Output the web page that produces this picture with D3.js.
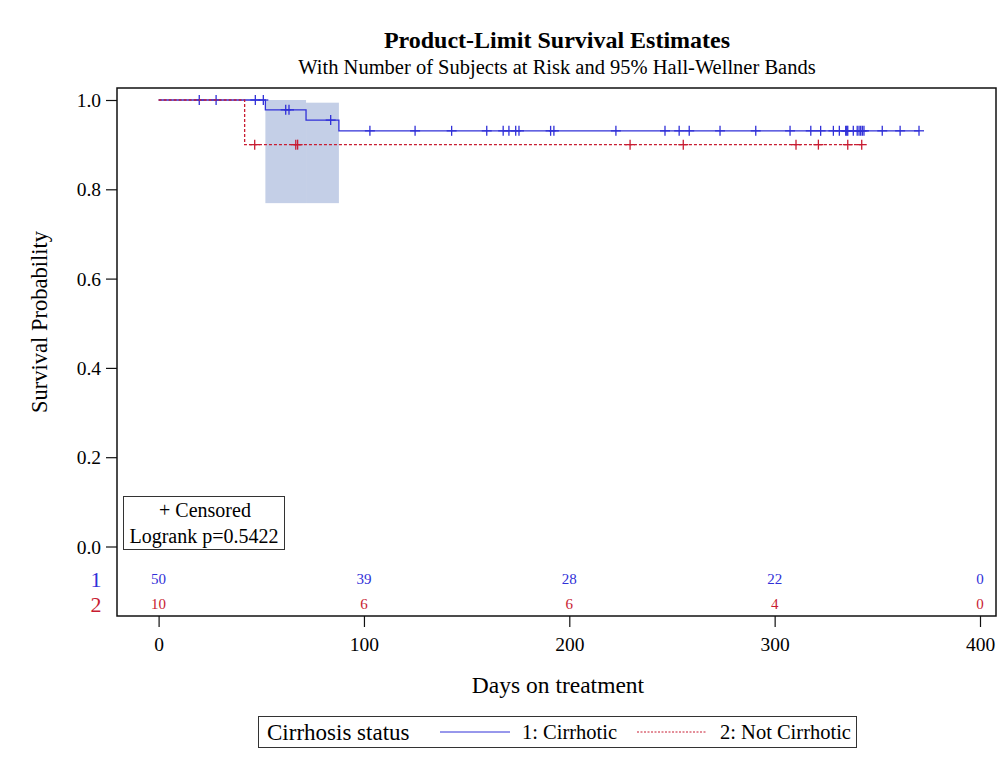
<!DOCTYPE html>
<html>
<head>
<meta charset="utf-8">
<script src="https://cdn.jsdelivr.net/npm/d3@7"></script>
<style>
  html, body { margin: 0; padding: 0; background: #fff; }
  svg { display: block; }
  text { font-family: "Liberation Serif", "DejaVu Serif", serif; fill: #000; }
</style>
</head>
<body>
<svg id="chart" width="1002" height="762"></svg>
<script>
// ---- Kaplan-Meier estimates by cirrhosis status ----
const groups = ["1", "2"];
const groupNames = ["1: Cirrhotic", "2: Not Cirrhotic"];

// step function: event times and survival just after each step
const stepTimes1 = [0, 52, 71.8, 87.8];
const stepSurv1  = [1.0, 0.978, 0.955, 0.931];
const stepTimes2 = [0, 41.9];
const stepSurv2  = [1.0, 0.9];

// censored observation times
const censor1 = [19.8, 28.0, 47.1, 51.0, 61.9, 63.5, 83.8, 102.9, 124.9, 142.7,
  159.8, 167.8, 170.6, 173.9, 175.5, 190.9, 192.5, 222.7, 246.6, 253.5, 258.4,
  273.4, 290.8, 307.5, 317.6, 322.4, 328.6, 331.5, 334.6, 335.1, 335.6, 338.3,
  340.2, 341.1, 341.9, 342.7, 343.5, 352.4, 361.1, 370.3];
const censor2 = [46.8, 66.8, 67.7, 229.6, 255.5, 310.4, 321.3, 335.6, 342.4];

// 95% Hall-Wellner band for group 1
const bandStart = [52, 71.8];
const bandEnd   = [71.8, 87.8];
const bandLower = [0.769, 0.769];
const bandUpper = [1.0, 0.994];

// number at risk table
const riskTimes = [0, 100, 200, 300, 400];
const atRisk1 = [50, 39, 28, 22, 0];
const atRisk2 = [10, 6, 6, 4, 0];

const xTicks = [0, 100, 200, 300, 400];
const yTicks = [0.0, 0.2, 0.4, 0.6, 0.8, 1.0];
const logrankText = "Logrank p=0.5422";

// ---- layout ----
const blue = "rgb(48,48,216)";
const red = "rgb(200,28,50)";
const frame = { left: 117, right: 996, top: 88, bottom: 616 };

const svg = d3.select("#chart");
const x = d3.scaleLinear().domain([0, 400]).range([158.6, 980]);
const y = d3.scaleLinear().domain([0, 1]).range([546.5, 100]);

// titles
svg.append("text").attr("x", 557).attr("y", 48).attr("text-anchor", "middle")
  .style("font-size", "24px").style("font-weight", "bold")
  .text("Product-Limit Survival Estimates");
svg.append("text").attr("x", 557).attr("y", 74).attr("text-anchor", "middle")
  .style("font-size", "20.5px")
  .text("With Number of Subjects at Risk and 95% Hall-Wellner Bands");

// Hall-Wellner band
svg.append("g").selectAll("rect").data(bandStart).join("rect")
  .attr("x", (d, i) => x(d))
  .attr("width", (d, i) => x(bandEnd[i]) - x(d))
  .attr("y", (d, i) => y(bandUpper[i]))
  .attr("height", (d, i) => y(bandLower[i]) - y(bandUpper[i]))
  .attr("fill", "rgb(196,207,231)");

// survival curves
function stepPoints(times, surv, end) {
  const pts = times.map((t, i) => [t, surv[i]]);
  pts.push([end, surv[surv.length - 1]]);
  return pts;
}
function survAt(times, surv, t) {
  let s = surv[0];
  for (let i = 0; i < times.length; i++) if (times[i] <= t) s = surv[i];
  return s;
}
const line = d3.line().x(d => x(d[0])).y(d => y(d[1])).curve(d3.curveStepAfter);

const curves = [
  { times: stepTimes1, surv: stepSurv1, cens: censor1, color: blue, dash: null },
  { times: stepTimes2, surv: stepSurv2, cens: censor2, color: red, dash: "3,2" }
];

curves.forEach(c => {
  const end = d3.max(c.cens);
  svg.append("path")
    .attr("d", line(stepPoints(c.times, c.surv, end)))
    .attr("fill", "none").attr("stroke", c.color).attr("stroke-width", 1.3)
    .attr("stroke-dasharray", c.dash);
  const g = svg.append("g").attr("stroke", c.color).attr("stroke-width", 1.3);
  c.cens.forEach(t => {
    const cx = x(t), cy = y(survAt(c.times, c.surv, t));
    g.append("line").attr("x1", cx - 5).attr("x2", cx + 5).attr("y1", cy).attr("y2", cy);
    g.append("line").attr("x1", cx).attr("x2", cx).attr("y1", cy - 5).attr("y2", cy + 5);
  });
});

// frame
svg.append("rect").attr("x", frame.left).attr("y", frame.top)
  .attr("width", frame.right - frame.left).attr("height", frame.bottom - frame.top)
  .attr("fill", "none").attr("stroke", "#111").attr("stroke-width", 1.5);

// y axis
const yAxis = d3.axisLeft(y).tickValues(yTicks).tickFormat(d3.format(".1f"))
  .tickSize(11).tickPadding(5);
const gy = svg.append("g").attr("transform", `translate(${frame.left},0)`).call(yAxis);
gy.select(".domain").remove();
gy.selectAll("line").attr("stroke", "#111").attr("stroke-width", 1.2);
gy.selectAll("text").style("font-size", "19.5px").style("font-family", "Liberation Serif")
  .attr("fill", "#000").attr("dy", "0.34em");

// x axis
const xAxis = d3.axisBottom(x).tickValues(xTicks).tickFormat(d3.format("d"))
  .tickSize(11).tickPadding(10);
const gx = svg.append("g").attr("transform", `translate(0,${frame.bottom})`).call(xAxis);
gx.select(".domain").remove();
gx.selectAll("line").attr("stroke", "#111").attr("stroke-width", 1.2);
gx.selectAll("text").style("font-size", "19.5px").style("font-family", "Liberation Serif")
  .attr("fill", "#000");

// axis titles
svg.append("text").attr("x", 558).attr("y", 693).attr("text-anchor", "middle")
  .style("font-size", "23.5px").text("Days on treatment");
svg.append("text").attr("transform", "translate(47,322) rotate(-90)")
  .attr("text-anchor", "middle").style("font-size", "22.5px").text("Survival Probability");

// number at risk rows
const riskRows = [
  { label: groups[0], vals: atRisk1, color: blue, y: 579 },
  { label: groups[1], vals: atRisk2, color: red, y: 604 }
];
riskRows.forEach(r => {
  svg.append("text").attr("x", 96).attr("y", r.y).attr("dy", "0.35em")
    .attr("text-anchor", "middle").style("font-size", "22px")
    .style("fill", r.color).text(r.label);
  svg.append("g").selectAll("text").data(r.vals).join("text")
    .attr("x", (d, i) => x(riskTimes[i])).attr("y", r.y).attr("dy", "0.35em")
    .attr("text-anchor", "middle").style("font-size", "15px")
    .style("fill", r.color).text(d => d);
});

// inset box
svg.append("rect").attr("x", 123.5).attr("y", 496.5).attr("width", 161).attr("height", 53)
  .attr("fill", "#fff").attr("stroke", "#333").attr("stroke-width", 1);
svg.append("text").attr("x", 205).attr("y", 517).attr("text-anchor", "middle")
  .style("font-size", "20px").text("+ Censored");
svg.append("text").attr("x", 204).attr("y", 543).attr("text-anchor", "middle")
  .style("font-size", "20px").text(logrankText);

// legend
svg.append("rect").attr("x", 258.5).attr("y", 716.5).attr("width", 598).attr("height", 31)
  .attr("fill", "#fff").attr("stroke", "#333").attr("stroke-width", 1);
svg.append("text").attr("x", 267).attr("y", 740).style("font-size", "23px").text("Cirrhosis status");
const legendItems = [
  { name: groupNames[0], color: blue, dash: null, x0: 440, tx: 522 },
  { name: groupNames[1], color: red, dash: "2,1.5", x0: 637, tx: 720 }
];
legendItems.forEach(it => {
  svg.append("line").attr("x1", it.x0).attr("x2", it.x0 + 70).attr("y1", 732).attr("y2", 732)
    .attr("stroke", it.color).attr("stroke-width", 1).attr("stroke-dasharray", it.dash);
  svg.append("text").attr("x", it.tx).attr("y", 739).style("font-size", "20.5px").text(it.name);
});
</script>
</body>
</html>
